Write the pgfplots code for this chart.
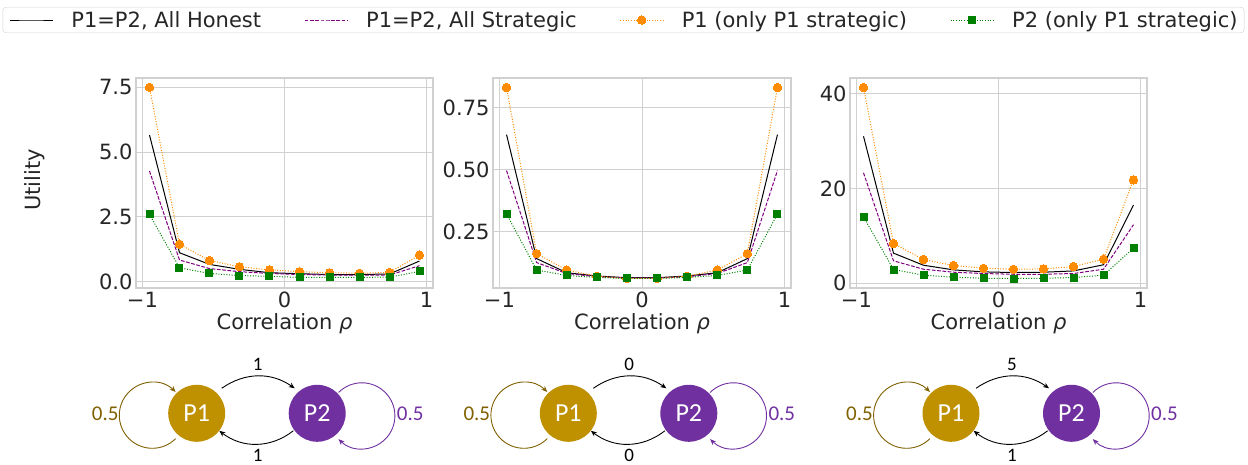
\documentclass[border=0pt]{standalone}
\usepackage{fontspec}
\setmainfont{DejaVu Sans}
\newfontfamily\carlito{Carlito}
\usepackage{pgfplots}
\pgfplotsset{compat=1.18}
\usetikzlibrary{arrows.meta}
\definecolor{txt}{HTML}{262626}
\definecolor{gridc}{HTML}{D0D0D0}
\definecolor{dorange}{HTML}{FF8C00}
\definecolor{dgreen}{HTML}{008000}
\definecolor{dpurple}{HTML}{800080}
\definecolor{gold}{HTML}{BF9000}
\definecolor{golddark}{HTML}{806000}
\definecolor{vio}{HTML}{7030A0}
\newcommand\fs{\fontsize{21bp}{25bp}\selectfont}

\pgfplotstableread{
x h s a b
-0.95 5.66 4.27 7.50 2.60
-0.7389 1.12 0.84 1.45 0.54
-0.5278 0.67 0.51 0.82 0.32
-0.3167 0.48 0.39 0.58 0.24
-0.1056 0.35 0.32 0.46 0.21
0.1056 0.31 0.28 0.39 0.17
0.3167 0.28 0.26 0.35 0.17
0.5278 0.28 0.26 0.33 0.17
0.7389 0.30 0.26 0.36 0.18
0.95 0.80 0.62 1.03 0.40
}\tA
\pgfplotstableread{
x h s a b
-0.95 0.642 0.497 0.832 0.322
-0.7389 0.142 0.126 0.162 0.096
-0.5278 0.085 0.082 0.096 0.074
-0.3167 0.072 0.069 0.071 0.066
-0.1056 0.065 0.064 0.062 0.062
0.1056 0.065 0.064 0.062 0.062
0.3167 0.072 0.069 0.071 0.066
0.5278 0.085 0.082 0.096 0.074
0.7389 0.142 0.126 0.162 0.096
0.95 0.642 0.497 0.832 0.322
}\tB
\pgfplotstableread{
x h s a b
-0.95 31.0 23.3 41.3 14.0
-0.7389 6.35 4.73 8.4 2.9
-0.5278 3.8 2.96 5.0 1.7
-0.3167 2.82 2.33 3.74 1.27
-0.1056 2.4 2.05 3.17 1.06
0.1056 2.26 1.9 2.96 0.99
0.3167 2.33 1.9 3.03 1.06
0.5278 2.6 2.05 3.53 1.2
0.7389 3.9 2.96 5.08 1.7
0.95 16.5 12.35 21.8 7.4
}\tC

\pgfplotsset{
  myax/.style={
    scale only axis, width=297bp, height=210bp, anchor=south west,
    xmin=-1.045, xmax=1.045, xtick={-1,0,1}, xticklabels={−1,0,1},
    grid=major, major grid style={gridc, line width=1bp},
    axis line style={gridc, line width=1.25bp},
    tick style={draw=none},
    ticklabel style={font=\fs, text=txt},
    xticklabel style={anchor=base, yshift=-20bp},
    xlabel={Correlation {\itshape ρ}},
    xlabel style={font=\fs, text=txt, at={(axis description cs:0.5,0)}, anchor=base, yshift=-42bp},
  },
  limg/.style={legend image code/.code={\draw[mark repeat=2,mark phase=2,##1] plot coordinates {(0bp,0bp) (21.5bp,0bp) (43bp,0bp)};}},
  honest/.style={black, line width=1bp, no marks, limg},
  strat/.style={dpurple, line width=1bp, dash pattern=on 3.7bp off 1.6bp, no marks, limg},
  pone/.style={dorange, line width=1bp, dash pattern=on 1bp off 1.65bp, mark=*, mark size=4.2bp, mark options={solid, fill=dorange, draw=dorange, line width=0pt}, limg},
  ptwo/.style={dgreen, line width=1bp, dash pattern=on 1bp off 1.65bp, mark=square*, mark size=3.5bp, mark options={solid, fill=dgreen, draw=dgreen, line width=0pt}, limg},
}

\newcommand\diagram[3]{%
\begin{scope}[shift={(#1bp,51.7bp)}, x=1bp, y=1bp]
  \fill[gold] (0,0) circle[radius=28.5];
  \fill[vio] (120.5,0) circle[radius=28.5];
  \node[white, font=\carlito\fontsize{26bp}{30bp}\selectfont] at (0,0) {P1};
  \node[white, font=\carlito\fontsize{26bp}{30bp}\selectfont] at (120.5,0) {P2};
  \draw[black, line width=0.9bp, -{Stealth[length=6bp,width=5bp]}] (25,25) to[bend left=35] (98,25);
  \draw[black, line width=0.9bp, -{Stealth[length=6bp,width=5bp]}] (96.6,-17.5) to[bend left=38] (22.6,-17.5);
  \draw[golddark, line width=0.9bp, -{Stealth[length=6bp,width=5bp]}] ([shift={(-45:33)}]-44.4,-2) arc[start angle=-45, end angle=-315, radius=33];
  \draw[vio, line width=0.9bp, -{Stealth[length=6bp,width=5bp]}] ([shift={(135:33)}]165.2,-2.5) arc[start angle=135, end angle=-135, radius=33];
  \node[black, font=\carlito\fontsize{19bp}{23bp}\selectfont] at (61,49) {#2};
  \node[black, font=\carlito\fontsize{19bp}{23bp}\selectfont] at (61,-42.5) {#3};
  \node[golddark, anchor=east, inner sep=0pt, font=\carlito\fontsize{21bp}{25bp}\selectfont] at (-78,0) {0.5};
  \node[vio, anchor=west, inner sep=0pt, font=\carlito\fontsize{21bp}{25bp}\selectfont] at (200,0) {0.5};
\end{scope}}

\begin{document}
\begin{tikzpicture}
\useasboundingbox (0,0) rectangle (1248bp,465bp);

\begin{axis}[myax, at={(136bp,177bp)},
  ymin=-0.24, ymax=7.86, ytick={0,2.5,5,7.5}, yticklabels={0.0,2.5,5.0,7.5},
  legend columns=4, legend cell align=left,
  legend style={at={(axis description cs:1.6414,1.2762)}, anchor=center,
    draw=gridc, rounded corners=3bp, fill=white, text=txt, font=\fs,
    inner xsep=6.5bp, inner ysep=4bp, column sep=0pt,
    nodes={inner sep=0pt, text=txt}},
]
\addplot[honest] table[x=x,y=h]{\tA};
\addplot[strat] table[x=x,y=s]{\tA};
\addplot[pone] table[x=x,y=a]{\tA};
\addplot[ptwo] table[x=x,y=b]{\tA};
\legend{{\hspace*{18bp}P1=P2, All Honest\hspace*{43bp}\null},
        {\hspace*{18bp}P1=P2, All Strategic\hspace*{43bp}\null},
        {\hspace*{18bp}P1 (only P1 strategic)\hspace*{43bp}\null},
        {\hspace*{18bp}P2 (only P1 strategic)}}
\end{axis}

\begin{axis}[myax, at={(493bp,177bp)}, width=298bp,
  ymin=0.0235, ymax=0.8705, ytick={0.25,0.5,0.75}, yticklabels={0.25,0.50,0.75}]
\addplot[honest] table[x=x,y=h]{\tB};
\addplot[strat] table[x=x,y=s]{\tB};
\addplot[pone] table[x=x,y=a]{\tB};
\addplot[ptwo] table[x=x,y=b]{\tB};
\end{axis}

\begin{axis}[myax, at={(850bp,177bp)},
  ymin=-1.0, ymax=43.3, ytick={0,20,40}, yticklabels={0,20,40}]
\addplot[honest] table[x=x,y=h]{\tC};
\addplot[strat] table[x=x,y=s]{\tC};
\addplot[pone] table[x=x,y=a]{\tC};
\addplot[ptwo] table[x=x,y=b]{\tC};
\end{axis}

\node[rotate=90, font=\fs, text=txt] at (35bp,285bp) {Utility};

\diagram{196.7}{1}{1}
\diagram{568.3}{0}{0}
\diagram{951}{5}{1}
\end{tikzpicture}
\end{document}
